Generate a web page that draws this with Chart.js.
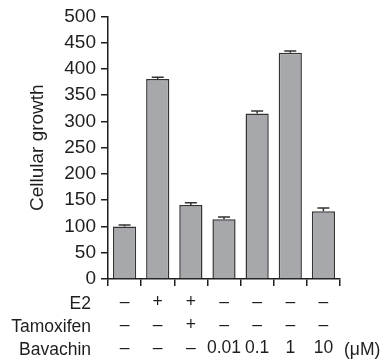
<!DOCTYPE html>
<html>
<head>
<meta charset="utf-8">
<script src="https://cdn.jsdelivr.net/npm/chart.js@4"></script>
<style>
  html, body { margin: 0; padding: 0; background: #fff; }
  #wrap { width: 384px; height: 362px; }
</style>
</head>
<body>
<div id="wrap"><canvas id="chart"></canvas></div>
<script>
const growth = [100, 381, 141, 114, 315, 431, 129]
const errors = [3, 3, 4, 4, 5, 3, 6]
const e2 = ['–', '+', '+', '–', '–', '–', '–']
const tamoxifen = ['–', '–', '+', '–', '–', '–', '–']
const bavachin = ['–', '–', '–', '0.01', '0.1', '1', '10']
const rowNames = ['E2', 'Tamoxifen', 'Bavachin']
const unit = '(μM)'
const yTicks = { min: 0, max: 500, step: 50 }

const labels = growth.map((v, i) => [e2[i], tamoxifen[i], bavachin[i]])
const font = "'Liberation Sans', Arial, sans-serif"
const ink = '#1e1e1e'
const lineH = 23

const errorBars = {
  id: 'errorBars',
  afterDatasetsDraw(chart) {
    const ctx = chart.ctx
    const y = chart.scales.y
    const meta = chart.getDatasetMeta(0)
    ctx.save()
    ctx.strokeStyle = '#333'
    ctx.lineWidth = 1.5
    meta.data.forEach((bar, i) => {
      const top = y.getPixelForValue(growth[i] + errors[i])
      ctx.beginPath()
      ctx.moveTo(bar.x, bar.y)
      ctx.lineTo(bar.x, top)
      ctx.moveTo(bar.x - 6, top)
      ctx.lineTo(bar.x + 6, top)
      ctx.stroke()
    })
    ctx.restore()
  }
}

const tableLabels = {
  id: 'tableLabels',
  afterDraw(chart) {
    const ctx = chart.ctx
    const x = chart.scales.x
    ctx.save()
    ctx.font = '17.5px ' + font
    ctx.fillStyle = ink
    ctx.textBaseline = 'middle'
    ctx.textAlign = 'right'
    const y0 = x.top + 25
    rowNames.forEach((name, i) => ctx.fillText(name, 91, y0 + i * lineH))
    ctx.textAlign = 'left'
    ctx.fillText(unit, 344, y0 + 2 * lineH)
    ctx.restore()
  }
}

new Chart(document.getElementById('chart'), {
  type: 'bar',
  data: {
    labels: labels,
    datasets: [{
      data: growth,
      backgroundColor: '#a7a8ab',
      borderColor: '#333',
      borderWidth: 1.5,
      barPercentage: 0.7,
      categoryPercentage: 1
    }]
  },
  options: {
    responsive: true,
    maintainAspectRatio: false,
    animation: false,
    layout: { padding: { left: 18, right: 44, top: 8, bottom: 0 } },
    plugins: { legend: { display: false }, tooltip: { enabled: false } },
    scales: {
      x: {
        grid: { drawOnChartArea: false, offset: true, tickLength: 7, color: ink, lineWidth: 1.5 },
        border: { color: ink, width: 1.5 },
        ticks: { color: ink, font: { size: 17.5, family: font, lineHeight: lineH / 17.5 }, padding: 5, maxRotation: 0, autoSkip: false },
        afterFit: (s) => { s.height = 83 }
      },
      y: {
        min: yTicks.min,
        max: yTicks.max,
        grid: { drawOnChartArea: false, tickLength: 7, color: ink, lineWidth: 1.5 },
        border: { color: ink, width: 1.5 },
        ticks: { stepSize: yTicks.step, color: ink, font: { size: 19, family: font }, padding: 5 },
        title: { display: true, text: 'Cellular growth', color: ink, font: { size: 19, family: font }, padding: { top: 8, bottom: 0 } },
        afterFit: (s) => { s.width = 108 - 18 }
      }
    }
  },
  plugins: [errorBars, tableLabels]
})
</script>
</body>
</html>
